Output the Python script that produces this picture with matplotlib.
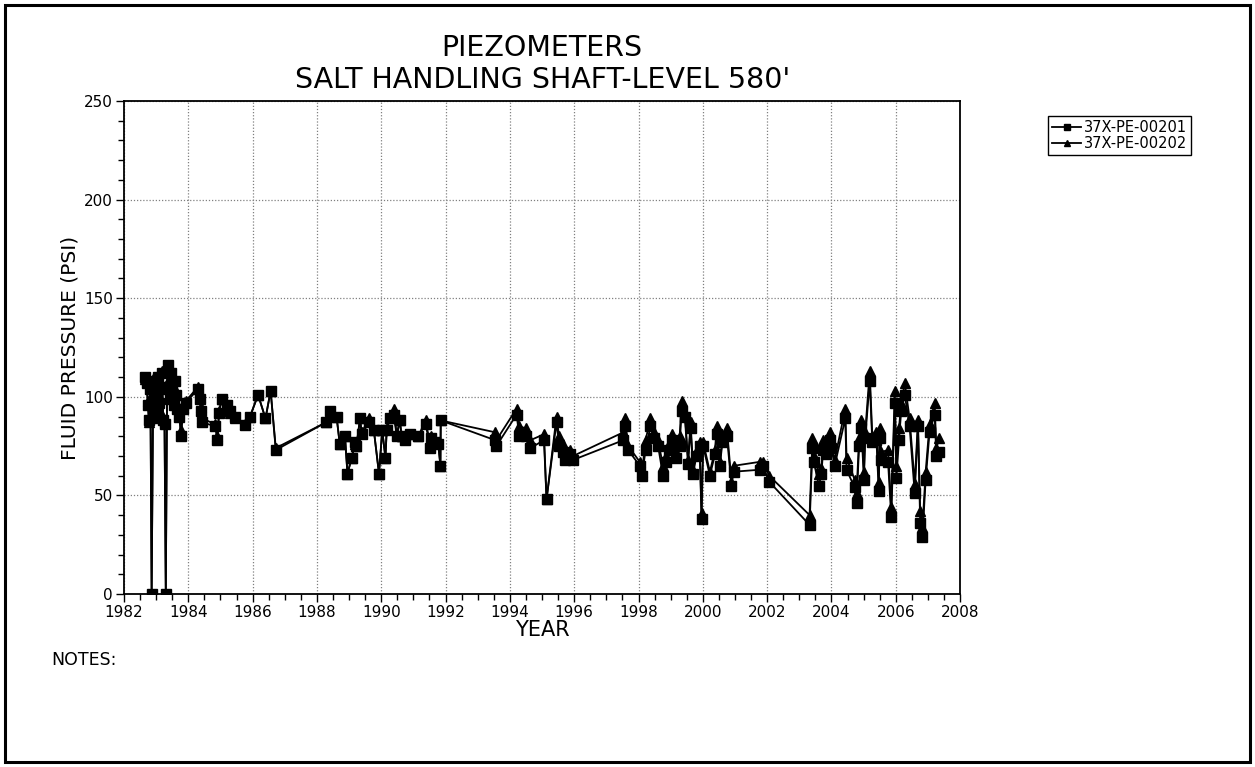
import matplotlib
matplotlib.use("Agg")
import matplotlib.pyplot as plt
from matplotlib.patches import Rectangle
from matplotlib.ticker import MultipleLocator

plt.rcParams['font.family'] = ['DejaVu Sans']

# sample dates (decimal years), shared by both piezometers
years = [1982.66, 1982.70, 1982.74, 1982.78, 1982.82, 1982.86, 1982.90, 1982.94, 1982.98, 1983.02,
         1983.06, 1983.10, 1983.14, 1983.18, 1983.22, 1983.26, 1983.30, 1983.34, 1983.38, 1983.42,
         1983.46, 1983.50, 1983.54, 1983.58, 1983.62, 1983.66, 1983.72, 1983.77, 1983.85, 1983.93,
         1984.30, 1984.36, 1984.40, 1984.44, 1984.84, 1984.90, 1984.96, 1985.04, 1985.19, 1985.30,
         1985.45, 1985.76, 1985.92, 1986.17, 1986.40, 1986.56, 1986.72, 1988.28, 1988.40, 1988.61,
         1988.71, 1988.87, 1988.95, 1989.08, 1989.18, 1989.23, 1989.34, 1989.39, 1989.63, 1989.77,
         1989.93, 1990.03, 1990.13, 1990.17, 1990.27, 1990.39, 1990.48, 1990.58, 1990.63, 1990.73,
         1990.89, 1991.15, 1991.38, 1991.53, 1991.56, 1991.67, 1991.77, 1991.84, 1991.85, 1993.54,
         1993.58, 1994.21, 1994.29, 1994.50, 1994.64, 1995.06, 1995.14, 1995.45, 1995.53, 1995.66,
         1995.70, 1995.86, 1995.97, 1997.53, 1997.58, 1997.68, 1998.04, 1998.11, 1998.22, 1998.37,
         1998.48, 1998.61, 1998.76, 1998.87, 1998.94, 1999.03, 1999.18, 1999.28, 1999.34, 1999.44,
         1999.54, 1999.62, 1999.70, 1999.80, 1999.90, 1999.96, 2000.01, 2000.22, 2000.38, 2000.43,
         2000.53, 2000.61, 2000.75, 2000.89, 2000.96, 2001.77, 2001.87, 2002.06, 2003.32, 2003.41,
         2003.45, 2003.61, 2003.69, 2003.74, 2003.82, 2003.97, 2004.00, 2004.10, 2004.43, 2004.47,
         2004.72, 2004.78, 2004.86, 2004.93, 2005.01, 2005.05, 2005.19, 2005.27, 2005.40, 2005.47,
         2005.50, 2005.55, 2005.76, 2005.86, 2005.97, 2006.02, 2006.10, 2006.17, 2006.28, 2006.43,
         2006.59, 2006.69, 2006.76, 2006.83, 2006.93, 2007.05, 2007.21, 2007.26, 2007.36]

pe201 = [110, 107, 96, 88, 104, 0, 91, 108, 99, 93,
         110, 97, 104, 112, 88, 86, 0, 105, 116, 99,
         112, 104, 96, 108, 101, 94, 90, 80, 94, 97,
         104, 99, 93, 87, 85, 78, 92, 99, 96, 93,
         90, 85.5, 90, 101, 89, 103, 73, 87, 93, 90,
         76, 80, 61, 69, 77, 75, 89, 81, 87, 83,
         61, 83, 69, 83, 89, 91, 80, 88, 80, 78,
         81, 80, 86, 74, 79, 77, 76, 65, 88, 78,
         75, 91, 80, 80, 74, 78, 48, 87, 75, 72,
         68, 71, 68, 78, 85, 73, 65, 60, 73, 85,
         79, 75, 60, 67, 73, 78, 69, 75, 93, 90,
         66, 84, 61, 70, 75, 38, 75, 60, 71, 81,
         65, 77, 80, 55, 62, 63, 65, 57, 35, 74,
         67, 55, 61, 73, 71, 78, 74, 65, 89, 63,
         54, 46, 75, 84, 58, 79, 108, 77, 78, 52,
         79, 68, 67, 39, 97, 59, 78, 93, 101, 85,
         51, 85, 36, 29, 58, 82, 91, 70, 72]

pe202 = [109, 110, 98, 87, 106, 0, 89, 110, 102, 95,
         108, 99, 107, 113, 90, 87, 0, 107, 114, 101,
         110, 106, 98, 109, 103, 96, 92, 83, 96, 98,
         105, 100, 95, 89, 86, 80, 93, 99, 96, 92,
         89, 86, 90, 101, 89, 103, 74, 87, 92, 90,
         76, 80, 61, 69, 76, 75, 89, 82, 89, 83,
         61, 83, 69, 84, 89, 94, 81, 88, 80, 79,
         81, 80, 88, 75, 80, 77, 77, 65, 88, 82,
         78, 94, 85, 84, 78, 81, 48, 90, 80, 76,
         72, 73, 70, 82, 89, 75, 67, 62, 78, 89,
         82, 78, 65, 70, 76, 81, 72, 80, 98, 92,
         68, 87, 63, 72, 77, 41, 77, 62, 73, 85,
         67, 79, 84, 57, 65, 67, 67, 60, 40, 79,
         70, 61, 64, 78, 74, 82, 76, 68, 94, 69,
         58, 51, 79, 88, 62, 82, 113, 80, 82, 57,
         84, 72, 73, 44, 103, 65, 84, 97, 107, 89,
         56, 88, 42, 34, 62, 86, 97, 74, 79]

labels = ['37X-PE-00201', '37X-PE-00202']

fig = plt.figure(figsize=(12.55, 7.67), dpi=100)
ax = fig.add_axes([0.0988, 0.2256, 0.6662, 0.6427])

ax.plot(years, pe201, color='black', lw=1.3, marker='s', ms=6.5, label=labels[0])
ax.plot(years, pe202, color='black', lw=1.3, marker='^', ms=6.5, label=labels[1])

ax.set_xlim(1982, 2008)
ax.set_ylim(0, 250)
ax.xaxis.set_major_locator(MultipleLocator(2))
ax.xaxis.set_minor_locator(MultipleLocator(0.5))
ax.yaxis.set_major_locator(MultipleLocator(50))
ax.yaxis.set_minor_locator(MultipleLocator(10))
ax.tick_params(which='major', direction='out', length=6, width=1, labelsize=11, pad=2)
ax.tick_params(which='minor', direction='out', length=4, width=1)
ax.grid(True, which='major', color='gray', linestyle=(0, (1, 1.5)), linewidth=0.9)
for s in ax.spines.values():
    s.set_linewidth(1.3)

ax.set_xlabel('YEAR', fontsize=15, labelpad=0)
ax.set_ylabel('FLUID PRESSURE (PSI)', fontsize=14.5, labelpad=3)

# two-line title, placed by hand above the plot
fig.text(0.432, 0.937, 'PIEZOMETERS', fontsize=20.5, ha='center', va='center')
fig.text(0.432, 0.896, "SALT HANDLING SHAFT-LEVEL 580'", fontsize=20.5, ha='center', va='center')

leg = ax.legend(loc='lower right', bbox_to_anchor=(0.949, 0.798), bbox_transform=fig.transFigure,
                fontsize=10.5, frameon=True, fancybox=False, edgecolor='black', framealpha=1,
                borderpad=0.25, labelspacing=0.1, handlelength=2.0, handletextpad=0.2,
                markerscale=0.7, borderaxespad=0)
leg.get_frame().set_linewidth(1.0)

fig.text(0.041, 0.1395, 'NOTES:', fontsize=12.5, va='center')

fig.patches.append(Rectangle((0.004, 0.006), 0.992, 0.988, transform=fig.transFigure,
                             fill=False, edgecolor='black', linewidth=2.2))

fig.savefig('out.png', dpi=100)
